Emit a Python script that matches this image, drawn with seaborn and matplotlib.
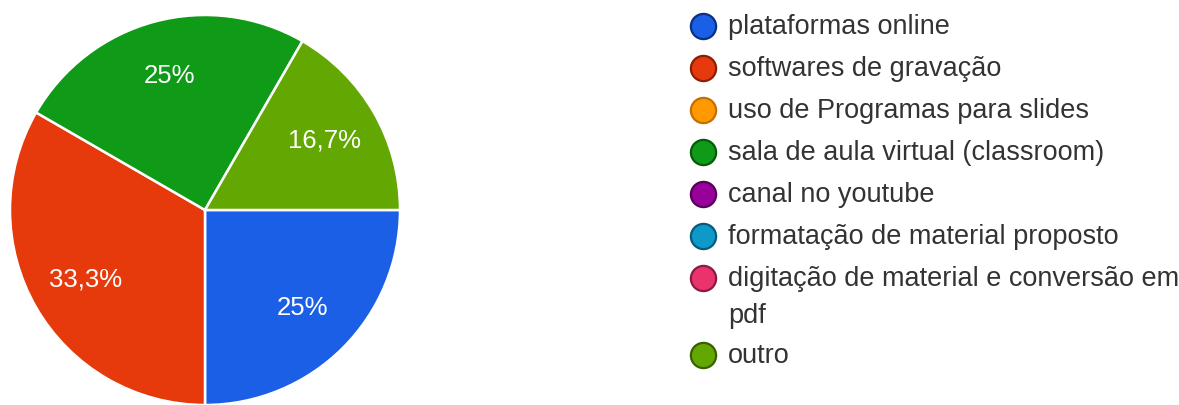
import matplotlib
matplotlib.use("Agg")
import matplotlib.pyplot as plt
import seaborn as sns

sns.set_style("white")
plt.rcParams['font.family'] = ['Liberation Sans', 'DejaVu Sans']

# answers and counts (12 responses)
labels = ['plataformas online', 'softwares de gravação', 'uso de Programas para slides',
          'sala de aula virtual (classroom)', 'canal no youtube',
          'formatação de material proposto',
          'digitação de material e conversão em\npdf', 'outro']
counts = [3, 4, 0, 3, 0, 0, 0, 2]
colors = ['#1a5fe6', '#e63a0c', '#ff9900', '#0f9a17', '#990099', '#0f99c8', '#e8336c', '#63a802']
edge_colors = ['#0b2f85', '#8a1f05', '#c26f00', '#075a0b', '#570057', '#075b78', '#8c1a40', '#386000']


def pct_label(p):
    s = f'{p:.1f}'
    if s.endswith('.0'):
        s = s[:-2]
    return s.replace('.', ',') + '%'


fig = plt.figure(figsize=(11.79, 4.05), dpi=100)

# pie (zero slices are left out of the pie but kept in the legend)
ax = fig.add_axes([10 / 1179, 0, 390 / 1179, 390 / 405])
vals = [c for c in counts if c > 0]
cols = [col for c, col in zip(counts, colors) if c > 0]
wedges, texts, autotexts = ax.pie(vals, colors=cols, startangle=0, counterclock=False,
                                  autopct=pct_label, pctdistance=0.71,
                                  wedgeprops={'linewidth': 1.8, 'edgecolor': 'white'},
                                  textprops={'color': 'white', 'fontsize': 18.5})
ax.set_xlim(-1.0, 1.0)
ax.set_ylim(-1.0, 1.0)
ax.set_aspect('equal')

# legend drawn in pixel coordinates
lax = fig.add_axes([0, 0, 1, 1])
lax.set_xlim(0, 1179)
lax.set_ylim(405, 0)
lax.axis('off')

y = 26
for lab, col, ec in zip(labels, colors, edge_colors):
    lax.scatter([703], [y], s=330, color=col, edgecolors=ec, linewidths=1.6, zorder=3)
    for k, line in enumerate(lab.split('\n')):
        lax.text(728, y + 8 + k * 37, line, fontsize=19.5, color='#333333', va='baseline', ha='left')
    y += 42 + 35 * (len(lab.split('\n')) - 1)

fig.savefig('out.png', dpi=100)
